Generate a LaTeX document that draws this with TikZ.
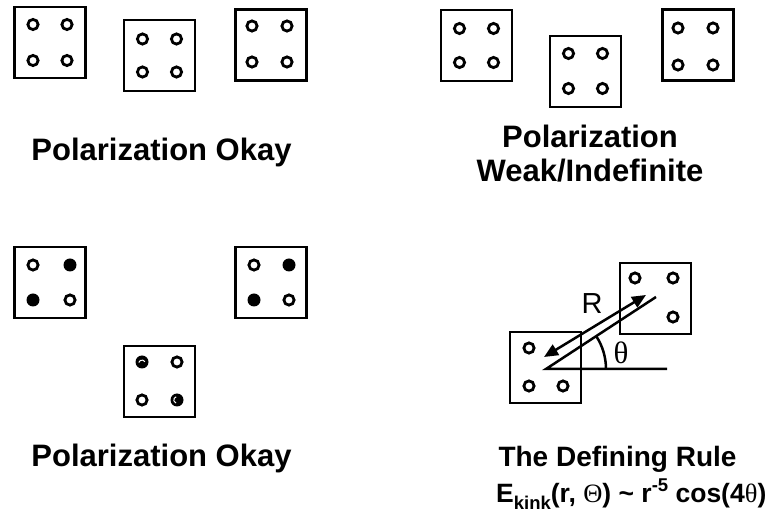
\documentclass[tikz,border=0pt]{standalone}
\usepackage{fontspec}
\setmainfont{Liberation Sans}
\newfontfamily\greekfont{Liberation Serif}
\usetikzlibrary{arrows.meta,calc}

\newcommand\qcell[3]{% name, center, dot offsets/styles
  \node[cell] (#1) at (#2) {};
  \foreach \dx/\dy/\st [count=\k] in {#3} {
    \node[\st] (#1-\k) at ($(#1)+(\dx,\dy)$) {};
  }
}

\begin{document}
\begin{tikzpicture}[x=1pt,y=-1pt,
  cell/.style={draw, line width=2.9pt, minimum size=71pt, inner sep=0pt, shape=rectangle},
  od/.style={circle, draw, line width=2.8pt, minimum size=10.2pt, inner sep=0pt},
  fd/.style={circle, fill=black, minimum size=13pt, inner sep=0pt},
  lbl/.style={font=\fontsize{31}{34}\selectfont\bfseries, anchor=base, inner sep=0pt},
  lbls/.style={font=\fontsize{28}{32}\selectfont\bfseries, anchor=base, inner sep=0pt},
  crescent/.style={draw=white, line width=1pt},
]
\useasboundingbox (0,0) rectangle (772,526);

% top left group
\qcell{c1}{50,42.5}{-17/-18/od, 17/-18/od, -17/18/od, 17/18/od}
\qcell{c2}{159.5,55.5}{-17/-16.5/od, 17/-16.5/od, -17/16.5/od, 17/16.5/od}
\qcell{c3}{271,45}{-19/-19/od, 16/-19/od, -19/17/od, 16/17/od}
\node[lbl] (t1) at (161.5,161) {Polarization Okay};

% top right group
\qcell{c4}{476.5,45.5}{-17/-17/od, 17/-17/od, -17/17/od, 17/17/od}
\qcell{c5}{585.5,71.5}{-17/-18/od, 17/-18/od, -17/17/od, 17/17/od}
\qcell{c6}{698,45}{-20/-17/od, 15/-17/od, -20/20/od, 15/20/od}
\node[lbl] (t2) at (590,148) {Polarization};
\node[lbl] (t3) at (590,182) {Weak/Indefinite};

% bottom left group
\qcell{c7}{50,282.5}{-17/-17.5/od, 20/-17.5/fd, -17/17.5/fd, 20/17.5/od}
\qcell{c8}{271,282.5}{-17/-17.5/od, 18/-17.5/fd, -17/17.5/fd, 18/17.5/od}
\qcell{c9}{159.5,381.5}{-17.5/-19.5/fd, 17.5/-19.5/od, -17.5/18.5/od, 17.5/18.5/fd}
\draw[crescent] ($(c9-1)+(-3.2pt,-0.5pt)$) arc[start angle=165, end angle=30, radius=3.3pt];
\draw[crescent] ($(c9-4)+(-0.8pt,3.2pt)$) arc[start angle=105, end angle=250, radius=3.3pt];
\node[lbl] (t4) at (161.5,467) {Polarization Okay};

% bottom right: the defining rule
\node[cell] (cA) at (545.5,367.5) {};
\node[od] (cA-1) at ($(cA)+(-16.5,-19.5)$) {};
\node[od] (cA-2) at ($(cA)+(-16.5,18.5)$) {};
\node[od] (cA-3) at ($(cA)+(17.5,18.5)$) {};
\node[cell] (cB) at (655.5,298.5) {};
\node[od] (cB-1) at ($(cB)+(-20.5,-20.5)$) {};
\node[od] (cB-2) at ($(cB)+(17.5,-20.5)$) {};
\node[od] (cB-3) at ($(cB)+(17.5,18.5)$) {};

\coordinate (O) at (546,369);
\coordinate (Lend) at (656,297);
\coordinate (Hend) at (667,369);
\draw[line width=2.5pt] (Lend) -- (O) -- (Hend);
\draw[line width=2.5pt] ($(O)+(60,0)$) arc[start angle=0, end angle=33, radius=60pt];

\coordinate (Ra) at (646,295);
\coordinate (Rb) at (544,357);
\draw[line width=2.5pt, {Triangle[length=14pt,width=12pt]}-{Triangle[length=14pt,width=12pt]}] (Ra) -- (Rb);
\node[font=\fontsize{29}{30}\selectfont, inner sep=0pt] (Rl) at (592,304) {R};
\node[font=\fontsize{31}{32}\greekfont, inner sep=0pt] (th) at (621,353) {θ};

\node[lbls] (t5) at (617.5,467) {The Defining Rule};
\node[lbls, anchor=base west, font=\fontsize{26.5}{30}\selectfont\bfseries] (t6) at (496,503) {E\raisebox{-7pt}{\fontsize{18.5}{20}\selectfont kink}(r,~{\mdseries\greekfont Θ}) \char`\~{} r\raisebox{11pt}{\fontsize{18.5}{20}\selectfont -5} cos(4{\mdseries\greekfont θ})};
\end{tikzpicture}
\end{document}
